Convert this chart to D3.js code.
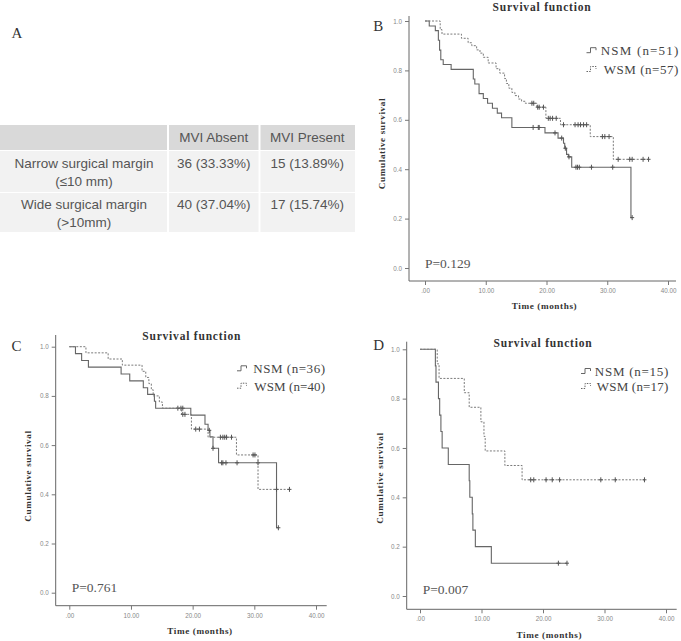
<!DOCTYPE html>
<html><head><meta charset="utf-8">
<script src="https://cdn.jsdelivr.net/npm/d3@7/dist/d3.min.js"></script>
<style>body{margin:0;background:#fff}svg{display:block}</style>
</head><body><svg id="c" width="681" height="641"></svg>
<script>
// ---------- DATA ----------
const tableHeader = ["", "MVI Absent", "MVI Present"];
const rowLabels = [["Narrow surgical margin", "(\u226410 mm)"], ["Wide surgical margin", "(>10mm)"]];
const mviAbsent = ["36 (33.33%)", "40 (37.04%)"];
const mviPresent = ["15 (13.89%)", "17 (15.74%)"];

const xTicks = [0, 10, 20, 30, 40];
const xTickLabels = [".00", "10.00", "20.00", "30.00", "40.00"];
const yTicks = [0, 0.2, 0.4, 0.6, 0.8, 1.0];
const yTickLabels = ["0.0", "0.2", "0.4", "0.6", "0.8", "1.0"];

// Panel B (all patients)
const bNSM = [[0,1],[0.7,0.980],[1.7,0.961],[2.2,0.922],[2.4,0.882],[2.6,0.843],[3.0,0.824],[4.3,0.804],[7.95,0.765],[8.2,0.745],[8.9,0.706],[9.6,0.686],[10.3,0.667],[11.1,0.647],[11.9,0.627],[12.6,0.608],[14.3,0.569],[19.75,0.547],[21.9,0.526],[22.8,0.505],[23.0,0.485],[23.3,0.46],[23.6,0.45],[24.15,0.408],[33.9,0.204]];
const bNSMcens = [17.8,18.65,18.8,21.4,22.5,23.1,23.7,24.85,25.1,25.4,27.4,30.9,34.1];
const bWSM = [[0,1],[2.5,0.965],[2.8,0.947],[6.0,0.93],[7.1,0.912],[7.7,0.9],[8.5,0.883],[9.05,0.87],[9.6,0.853],[10.4,0.83],[11.7,0.807],[12.3,0.789],[13.1,0.767],[13.4,0.747],[13.8,0.728],[14.3,0.711],[14.8,0.698],[15.4,0.684],[15.9,0.675],[16.5,0.667],[18.4,0.651],[19.9,0.606],[22.3,0.58],[27.2,0.532],[31.0,0.44]];
const bWSMcens = [17.6,17.9,18.55,18.8,19.5,20.3,20.6,21.0,21.6,22.8,24.7,25.2,25.6,26.1,26.6,29.2,29.6,30.3,31.8,33.7,34.1,35.9,36.8];

// Panel C (MVI absent)
const cNSM = [[0,1],[1.0,0.972],[2.0,0.944],[3.1,0.917],[8.4,0.889],[9.8,0.861],[12.0,0.833],[12.7,0.806],[13.8,0.778],[14.0,0.75],[19.7,0.722],[22.0,0.685],[22.5,0.66],[22.8,0.634],[23.3,0.587],[24.2,0.528],[33.6,0.264]];
const cNSMcens = [17.6,18.1,18.4,22.7,23.3,24.7,24.9,25.4,27.2,30.6,33.9];
const cWSM = [[0,1],[2.7,0.975],[6.3,0.95],[8.6,0.925],[11.8,0.9],[12.4,0.875],[12.9,0.85],[13.3,0.825],[13.6,0.8],[14.6,0.775],[15.1,0.75],[18.2,0.725],[19.8,0.665],[22.5,0.632],[27.1,0.56],[30.6,0.42]];
const cWSMcens = [18.4,18.75,20.5,21.1,24.5,24.9,25.2,25.5,26.3,29.8,30.1,33.6,35.7];

// Panel D (MVI present)
const dNSM = [[0,1],[2.5,0.933],[2.6,0.867],[3.0,0.8],[3.2,0.733],[3.4,0.667],[3.6,0.6],[4.6,0.533],[8.0,0.467],[8.1,0.4],[8.5,0.333],[8.6,0.267],[9.0,0.2],[11.6,0.133]];
const dNSMcens = [22.5,23.9];
const dWSM = [[0,1],[2.8,0.941],[3.1,0.882],[7.2,0.824],[8.0,0.765],[9.9,0.706],[10.4,0.647],[10.6,0.588],[13.8,0.529],[16.6,0.471]];
const dWSMcens = [18.0,18.5,20.5,21.5,22.7,29.4,31.75,36.5];

const legendNames = ["NSM", "WSM"];
const bN = [51, 57], cN = [36, 40], dN = [15, 17];
const pValues = ["P=0.129", "P=0.761", "P=0.007"];

// ---------- DRAW ----------
const svg = d3.select("#c");
const SERIF = "'Liberation Serif','Times New Roman',serif";
const SANS = "'Liberation Sans',Arial,sans-serif";

// Panel letter A + table
svg.append("text").attr("x", 11.5).attr("y", 38.3).attr("font-family", SERIF).attr("font-size", 15).attr("fill", "#333").text("A");

const colEdges = [0, 168, 259.5, 355];
const rowEdges = [125, 150.5, 192.5, 232.5];
const tg = svg.append("g");
for (let r = 0; r < 3; r++) {
  for (let c = 0; c < 3; c++) {
    tg.append("rect")
      .attr("x", colEdges[c] + (c ? 1 : 0)).attr("y", rowEdges[r] + (r ? 0.5 : 0))
      .attr("width", colEdges[c+1] - colEdges[c] - (c ? 1 : 0) - (c < 2 ? 1 : 0))
      .attr("height", rowEdges[r+1] - rowEdges[r] - (r ? 0.5 : 0) - 0.5)
      .attr("fill", r === 0 ? "#d9d9d9" : "#f2f2f2");
  }
}
const tstyle = s => s.attr("font-family", SANS).attr("font-size", 13.5).attr("fill", "#555").attr("text-anchor", "middle");
const colC = colEdges.slice(0, 3).map((e, i) => (e + colEdges[i+1]) / 2);
tableHeader.forEach((h, i) => { if (h) tg.append("text").attr("x", colC[i]).attr("y", 141.5).call(tstyle).text(h); });
rowLabels.forEach((lab, r) => {
  const base = r === 0 ? 168 : 208.7;
  tg.append("text").attr("x", 84).attr("y", base).call(tstyle).text(lab[0]);
  tg.append("text").attr("x", 84).attr("y", base + 18.2).call(tstyle).text(lab[1]);
  tg.append("text").attr("x", colC[1]).attr("y", base).call(tstyle).text(mviAbsent[r]);
  tg.append("text").attr("x", colC[2]).attr("y", base).call(tstyle).text(mviPresent[r]);
});

function survAt(steps, t) { let s = 1; for (const [tt, ss] of steps) if (tt <= t) s = ss; return s; }

function drawPanel(cfg) {
  const g = svg.append("g");
  const x = d3.scaleLinear().domain([0, 40]).range([cfg.x0, cfg.x40]);
  const y = d3.scaleLinear().domain([0, 1]).range([cfg.y0, cfg.y1]);

  g.append("path").attr("d", `M${cfg.left},${cfg.top}V${cfg.bottom}H${cfg.right}`)
    .attr("fill", "none").attr("stroke", "#666").attr("stroke-width", 1);
  const xa = g.append("g").attr("transform", `translate(0,${cfg.bottom})`)
    .call(d3.axisBottom(x).tickValues(xTicks).tickFormat((d, i) => xTickLabels[i]).tickSize(4).tickPadding(3.5));
  const ya = g.append("g").attr("transform", `translate(${cfg.left},0)`)
    .call(d3.axisLeft(y).tickValues(yTicks).tickFormat((d, i) => yTickLabels[i]).tickSize(4).tickPadding(3));
  [xa, ya].forEach(a => {
    a.select(".domain").remove();
    a.selectAll("line").attr("stroke", "#777");
    a.selectAll("text").attr("font-family", SANS).attr("font-size", 6.3).attr("fill", "#888");
  });

  cfg.curves.forEach((cv, k) => {
    const endT = Math.max(cv.steps[cv.steps.length - 1][0], d3.max(cv.cens));
    const pts = cv.steps.concat([[endT, cv.steps[cv.steps.length - 1][1]]]);
    g.append("path")
      .attr("d", d3.line().curve(d3.curveStepAfter).x(d => x(d[0])).y(d => y(d[1]))(pts))
      .attr("fill", "none")
      .attr("stroke", k === 0 ? "#666" : "#7a7a7a")
      .attr("stroke-width", k === 0 ? 1.1 : 1)
      .attr("stroke-dasharray", k === 0 ? null : "2,1.5");
    cv.cens.forEach(t => {
      const cx = x(t), cy = y(survAt(cv.steps, t));
      g.append("path").attr("d", `M${cx},${cy - 2.5}V${cy + 2.5}M${cx - 2},${cy}H${cx + 2}`)
        .attr("stroke", "#555").attr("stroke-width", 1).attr("fill", "none");
    });
  });

  g.append("text").attr("x", cfg.titleX).attr("y", cfg.titleY).attr("text-anchor", "middle")
    .attr("font-family", SERIF).attr("font-weight", "bold").attr("font-size", 11.5)
    .attr("letter-spacing", 0.8).attr("fill", "#333").text("Survival  function");
  g.append("text").attr("x", cfg.xlabX).attr("y", cfg.xlabY).attr("text-anchor", "middle")
    .attr("font-family", SERIF).attr("font-weight", "bold").attr("font-size", 9.2)
    .attr("letter-spacing", 0.6).attr("fill", "#333").text("Time  (months)");
  g.append("text").attr("transform", `translate(${cfg.ylabX},${cfg.ylabY}) rotate(-90)`).attr("text-anchor", "middle")
    .attr("font-family", SERIF).attr("font-weight", "bold").attr("font-size", 9.2)
    .attr("letter-spacing", 0.6).attr("fill", "#333").text("Cumulative  survival");
  g.append("text").attr("x", cfg.letterX).attr("y", cfg.letterY).attr("font-family", SERIF)
    .attr("font-size", 15).attr("fill", "#333").text(cfg.letter);
  g.append("text").attr("x", cfg.pX).attr("y", cfg.pY).attr("font-family", SERIF)
    .attr("font-size", 13.5).attr("fill", "#555").text(cfg.p);
  cfg.curves.forEach((cv, k) => {
    const by = cfg.legY[k];
    g.append("path").attr("d", `M${cfg.symX},${by - 2.5}h4v-5h5.5v2.5`)
      .attr("fill", "none").attr("stroke", "#666").attr("stroke-width", 1)
      .attr("stroke-dasharray", k === 0 ? null : "1.5,1.2");
    g.append("text").attr("x", cfg.legRight).attr("y", by).attr("text-anchor", "end")
      .attr("font-family", SERIF).attr("font-size", 13).attr("fill", "#444")
      .attr("textLength", cfg.legW[k]).attr("lengthAdjust", "spacing")
      .text(`${legendNames[k]} (n=${cfg.n[k]})`);
  });
}

drawPanel({
  letter: "B", letterX: 373.3, letterY: 30.7,
  x0: 425, x40: 668, y0: 268, y1: 21, left: 409, right: 676, top: 16, bottom: 281,
  titleX: 542, titleY: 10.5, xlabX: 544.5, xlabY: 308.5, ylabX: 385, ylabY: 143.5,
  pX: 425, pY: 267.7, p: pValues[0],
  symX: 586.5, legRight: 678.3, legY: [55.2, 74], legW: [77.5, 74.5], n: bN,
  curves: [{steps: bNSM, cens: bNSMcens}, {steps: bWSM, cens: bWSMcens}]
});
drawPanel({
  letter: "C", letterX: 11.5, letterY: 350.7,
  x0: 69.3, x40: 316, y0: 592.7, y1: 346.7, left: 55.7, right: 326.7, top: 335, bottom: 605.7,
  titleX: 191.7, titleY: 340, xlabX: 200, xlabY: 634, ylabX: 31, ylabY: 476,
  pX: 71.7, pY: 592, p: pValues[1],
  symX: 237, legRight: 325, legY: [373.3, 390.7], legW: [71.7, 70.7], n: cN,
  curves: [{steps: cNSM, cens: cNSMcens}, {steps: cWSM, cens: cWSMcens}]
});
drawPanel({
  letter: "D", letterX: 373.3, letterY: 350,
  x0: 420, x40: 666, y0: 596, y1: 349.3, left: 406.7, right: 676.7, top: 341.7, bottom: 609.3,
  titleX: 543, titleY: 346.5, xlabX: 549.3, xlabY: 637.5, ylabX: 382.5, ylabY: 478,
  pX: 422.7, pY: 594, p: pValues[2],
  symX: 581, legRight: 668.3, legY: [376, 391], legW: [73.5, 71.5], n: dN,
  curves: [{steps: dNSM, cens: dNSMcens}, {steps: dWSM, cens: dWSMcens}]
});
</script></body></html>
